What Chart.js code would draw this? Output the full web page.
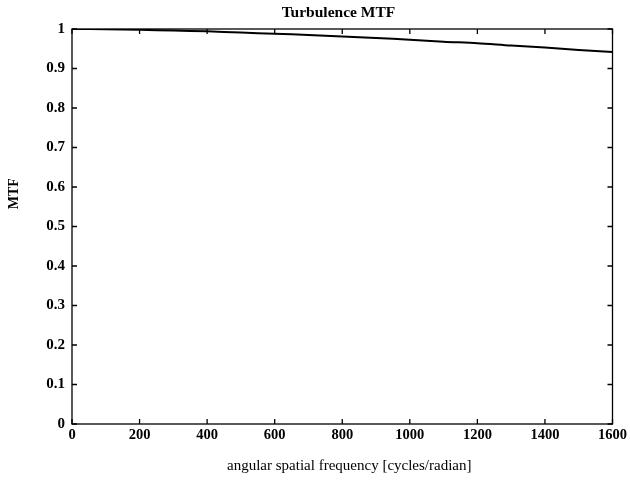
<!DOCTYPE html>
<html lang="en">
<head>
    <meta charset="UTF-8">
    <title>Turbulence MTF</title>
    <script src="https://cdn.jsdelivr.net/npm/chart.js"></script>
    <style>
        body {
            margin: 0;
            padding: 0;
            background-color: #fff;
        }
        canvas {
            display: block;
        }
    </style>
</head>
<body>

    <canvas id="mtfChart" width="630" height="482"></canvas>

    <script>
        // angular spatial frequency [cycles/radian]
        var frequency = [0, 100, 200, 300, 400, 500, 600, 700, 800, 900, 1000, 1100, 1200, 1300, 1400, 1500, 1600];
        // turbulence MTF read at each frequency
        var mtf = [1.000, 0.9995, 0.998, 0.996, 0.994, 0.991, 0.988, 0.985, 0.981, 0.977, 0.973, 0.968, 0.964, 0.958, 0.953, 0.947, 0.942];

        var xTicks = [0, 200, 400, 600, 800, 1000, 1200, 1400, 1600];
        var yTicks = [0, 0.1, 0.2, 0.3, 0.4, 0.5, 0.6, 0.7, 0.8, 0.9, 1];

        var chartTitle = 'Turbulence MTF';
        var xTitle = 'angular spatial frequency [cycles/radian]';
        var yTitle = 'MTF';

        var serif = '"Liberation Serif", "DejaVu Serif", serif';

        var points = frequency.map(function (f, i) {
            return { x: f, y: mtf[i] };
        });

        // frame with inward ticks on all four sides, plus the titles
        var boxPlugin = {
            id: 'boxPlugin',
            afterDraw: function (chart) {
                var ctx = chart.ctx;
                var area = chart.chartArea;
                var xs = chart.scales.x;
                var ys = chart.scales.y;
                var len = 5;
                ctx.save();
                ctx.strokeStyle = '#000';
                ctx.lineWidth = 1.3;
                ctx.strokeRect(area.left, area.top, area.right - area.left, area.bottom - area.top);
                ctx.beginPath();
                xTicks.forEach(function (v) {
                    var px = xs.getPixelForValue(v);
                    ctx.moveTo(px, area.bottom);
                    ctx.lineTo(px, area.bottom - len);
                    ctx.moveTo(px, area.top);
                    ctx.lineTo(px, area.top + len);
                });
                yTicks.forEach(function (v) {
                    var py = ys.getPixelForValue(v);
                    ctx.moveTo(area.left, py);
                    ctx.lineTo(area.left + len, py);
                    ctx.moveTo(area.right, py);
                    ctx.lineTo(area.right - len, py);
                });
                ctx.stroke();

                var w = area.right - area.left;
                var h = area.bottom - area.top;
                ctx.fillStyle = '#000';
                ctx.textAlign = 'center';
                ctx.textBaseline = 'middle';

                ctx.font = 'bold 15.5px ' + serif;
                ctx.fillText(chartTitle, area.left + w * 0.493, 13);

                ctx.font = '15px ' + serif;
                ctx.fillText(xTitle, area.left + w * 0.513, 466);

                ctx.translate(14, area.top + h * 0.417);
                ctx.rotate(-Math.PI / 2);
                ctx.font = 'bold 14px ' + serif;
                ctx.fillText(yTitle, 0, 0);
                ctx.restore();
            }
        };

        var ctx = document.getElementById('mtfChart').getContext('2d');
        var mtfChart = new Chart(ctx, {
            type: 'line',
            data: {
                datasets: [{
                    label: 'MTF',
                    data: points,
                    borderColor: '#000',
                    borderWidth: 2,
                    pointRadius: 0,
                    fill: false,
                    tension: 0.3
                }]
            },
            options: {
                responsive: false,
                animation: false,
                layout: {
                    padding: { top: 29, left: 0, right: 0, bottom: 0 }
                },
                plugins: {
                    legend: { display: false },
                    tooltip: { enabled: false },
                    title: { display: false }
                },
                scales: {
                    x: {
                        type: 'linear',
                        min: 0,
                        max: 1600,
                        afterFit: function (scale) { scale.height = 58; },
                        afterBuildTicks: function (scale) {
                            scale.ticks = xTicks.map(function (v) { return { value: v }; });
                        },
                        grid: { display: false, drawTicks: false },
                        border: { display: false },
                        ticks: {
                            color: '#000',
                            padding: 3,
                            maxRotation: 0,
                            font: { family: serif, size: 14.5, weight: 'bold' },
                            callback: function (v) { return String(v); }
                        }
                    },
                    y: {
                        min: 0,
                        max: 1,
                        afterFit: function (scale) { scale.width = 72; },
                        afterBuildTicks: function (scale) {
                            scale.ticks = yTicks.map(function (v) { return { value: v }; });
                        },
                        grid: { display: false, drawTicks: false },
                        border: { display: false },
                        ticks: {
                            color: '#000',
                            padding: 7,
                            font: { family: serif, size: 15, weight: 'bold' },
                            callback: function (v) { return String(Math.round(v * 10) / 10); }
                        }
                    }
                }
            },
            plugins: [boxPlugin]
        });
    </script>
</body>
</html>
